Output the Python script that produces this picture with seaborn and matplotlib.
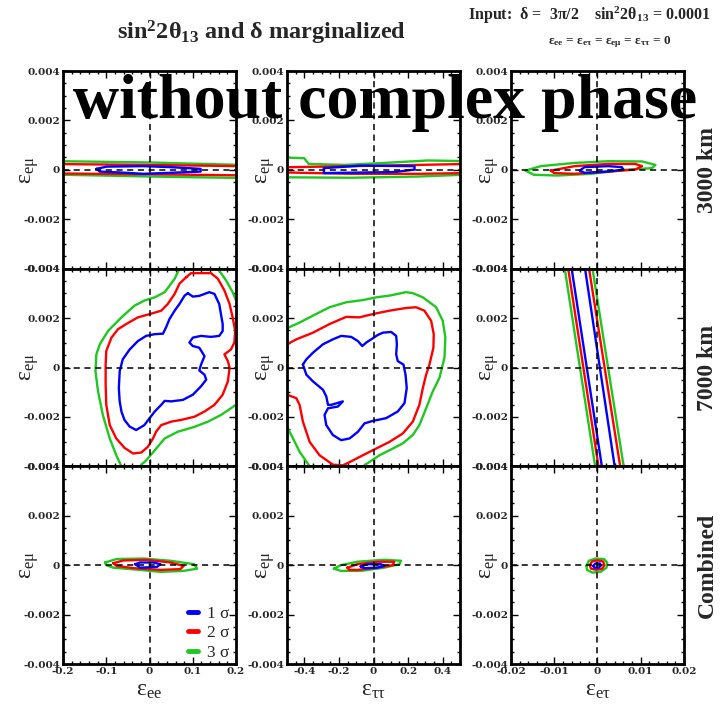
import matplotlib
matplotlib.use("Agg")
import matplotlib.pyplot as plt
import seaborn as sns
from matplotlib.lines import Line2D
from matplotlib.ticker import MultipleLocator

sns.set_theme(style="white")
plt.rcParams['font.family'] = ['Liberation Serif', 'DejaVu Serif']
plt.rcParams['mathtext.fontset'] = 'custom'
plt.rcParams['mathtext.rm'] = 'Liberation Serif'

# ---- data ----
row_names = ['3000 km', '7000 km', 'Combined']
col_labels = ['ε$\\mathregular{_{ee}}$', 'ε$\\mathregular{_{ττ}}$', 'ε$\\mathregular{_{eτ}}$']
col_limits = [(-0.2, 0.2), (-0.5, 0.5), (-0.02, 0.02)]
col_xticks = [[-0.2, -0.1, 0, 0.1, 0.2],
              [-0.4, -0.2, 0, 0.2, 0.4],
              [-0.02, -0.01, 0, 0.01, 0.02]]
col_xticklabels = [['-0.2', '-0.1', '0', '0.1', '0.2'],
                   ['-0.4', '-0.2', '0', '0.2', '0.4'],
                   ['-0.02', '-0.01', '0', '0.01', '0.02']]
col_minor = [0.02, 0.05, 0.002]
yticks = [-0.004, -0.002, 0, 0.002, 0.004]
yticklabels = ['-0.004', '-0.002', '0', '0.002', '0.004']
sigma_labels = ['1 σ', '2 σ', '3 σ']

# 3000 km, eps_ee
ee_3000_1s = [(-0.123, 0.00004), (-0.099, 0.00013), (-0.014, 0.00015), (0.048, 0.00011),
              (0.118, 0.00004), (0.118, -0.00007), (0.048, -0.00012), (-0.014, -0.00016),
              (-0.053, -0.00012), (-0.115, -0.00007)]
ee_3000_2s = [(-0.25, 0.00024), (0.0, 0.00020), (0.25, 0.00014), (0.25, -0.00023),
              (0.0, -0.00018), (-0.25, -0.00014)]
ee_3000_3s = [(-0.25, 0.00036), (0.0, 0.00030), (0.25, 0.00018), (0.25, -0.00034),
              (0.0, -0.00027), (-0.25, -0.00018)]
# 3000 km, eps_tautau
tt_3000_1s = [(-0.287, 0.00007), (-0.074, 0.00017), (0.237, 0.00015), (0.237, 0.00001),
              (0.12, -0.00009), (-0.287, -0.00013)]
tt_3000_2s = [(-0.55, 0.00010), (-0.13, 0.00015), (0.26, 0.00020), (0.55, 0.00024),
              (0.55, -0.00013), (0.26, -0.00016), (-0.13, -0.00016), (-0.55, -0.00010)]
tt_3000_3s = [(-0.55, 0.00051), (-0.40, 0.00047), (-0.375, 0.00024), (-0.17, 0.00020),
              (0.062, 0.00028), (0.315, 0.00038), (0.55, 0.00035), (0.55, -0.00019),
              (0.26, -0.00027), (-0.13, -0.00032), (-0.55, -0.00030)]
# 3000 km, eps_etau
et_3000_1s = [(-0.0041, -0.00003), (-0.003, 0.00011), (0.0025, 0.00015), (0.0056, 0.00011),
              (0.006, 0.00001), (0.0025, -0.00007), (-0.003, -0.00012)]
et_3000_2s = [(-0.0108, -0.00003), (-0.0053, 0.00015), (0.0025, 0.00024), (0.0087, 0.00024),
              (0.0103, 0.00015), (0.0087, 0.00001), (0.0025, -0.00007), (-0.0053, -0.00016),
              (-0.0100, -0.00013)]
et_3000_3s = [(-0.0166, -0.00003), (-0.0131, 0.00015), (-0.0053, 0.00028), (0.0025, 0.00035),
              (0.0103, 0.00034), (0.0134, 0.00020), (0.0126, 0.00007), (0.0064, 0.0),
              (-0.0014, -0.00016), (-0.0092, -0.00023), (-0.0147, -0.00020)]

# 7000 km, eps_ee
ee_7000_1s = [(0.0885, 0.00301), (0.100, 0.00287), (0.115, 0.00290), (0.138, 0.00305),
              (0.150, 0.00298), (0.161, 0.00257), (0.165, 0.00216), (0.169, 0.00176),
              (0.169, 0.00148), (0.161, 0.00128), (0.142, 0.00124), (0.119, 0.00128),
              (0.100, 0.00121), (0.092, 0.00101), (0.100, 0.00087), (0.115, 0.00080),
              (0.127, 0.00046), (0.119, 0.00012), (0.115, -0.00012), (0.127, -0.00029),
              (0.131, -0.00049), (0.119, -0.00076), (0.100, -0.00110), (0.077, -0.00131),
              (0.050, -0.00137), (0.035, -0.00135), (0.027, -0.00151), (0.012, -0.00178),
              (0.0, -0.00205), (-0.012, -0.00233), (-0.031, -0.00253), (-0.046, -0.00239),
              (-0.058, -0.00212), (-0.065, -0.00178), (-0.069, -0.00137), (-0.071, -0.00083),
              (-0.069, -0.00015), (-0.062, 0.00033), (-0.046, 0.00073), (-0.027, 0.00107),
              (-0.008, 0.00128), (0.012, 0.00135), (0.031, 0.00137), (0.038, 0.00162),
              (0.046, 0.00196), (0.058, 0.00230), (0.069, 0.00257), (0.081, 0.00291)]
ee_7000_2s = [(0.085, 0.00366), (0.096, 0.00382), (0.142, 0.00382), (0.158, 0.00359),
              (0.173, 0.00312), (0.185, 0.00257), (0.192, 0.00203), (0.198, 0.00148),
              (0.196, 0.00101), (0.188, 0.00073), (0.173, 0.00053), (0.181, 0.00026),
              (0.185, -0.00001), (0.181, -0.00056), (0.169, -0.00110), (0.150, -0.00151),
              (0.127, -0.00178), (0.104, -0.00199), (0.073, -0.00212), (0.050, -0.00219),
              (0.027, -0.00233), (0.015, -0.00260), (0.008, -0.00287), (-0.004, -0.00321),
              (-0.019, -0.00344), (-0.038, -0.00348), (-0.058, -0.00325), (-0.077, -0.00287),
              (-0.092, -0.00233), (-0.100, -0.00151), (-0.1015, -0.00069), (-0.1015, 0.00012),
              (-0.100, 0.00067), (-0.088, 0.00121), (-0.073, 0.00155), (-0.054, 0.00176),
              (-0.027, 0.00203), (0.0, 0.00216), (0.027, 0.00230), (0.042, 0.00257),
              (0.058, 0.00298), (0.069, 0.00339)]
ee_7000_3s = [(0.069, 0.0040), (0.058, 0.00359), (0.035, 0.00305), (0.012, 0.00284),
              (-0.012, 0.00271), (-0.035, 0.00250), (-0.065, 0.00203), (-0.096, 0.00148),
              (-0.115, 0.00094), (-0.123, 0.00053), (-0.125, -0.00015), (-0.119, -0.00097),
              (-0.108, -0.00192), (-0.092, -0.00287), (-0.077, -0.00355), (-0.065, -0.0040),
              (-0.054, -0.0045), (-0.035, -0.0045), (-0.023, -0.0040), (-0.008, -0.00376),
              (0.012, -0.00335), (0.035, -0.00287), (0.065, -0.00260), (0.104, -0.00240),
              (0.135, -0.00219), (0.165, -0.00192), (0.188, -0.00165), (0.200, -0.00151),
              (0.227, -0.00124), (0.235, 0.00148), (0.200, 0.00271), (0.192, 0.00305),
              (0.177, 0.00352), (0.158, 0.0040), (0.142, 0.0045), (0.081, 0.0045)]
# 7000 km, eps_tautau
tt_7000_1s = [(-0.408, 0.00012), (-0.388, 0.00033), (-0.35, 0.00060), (-0.292, 0.00094),
              (-0.235, 0.00114), (-0.187, 0.00128), (-0.129, 0.00124), (-0.090, 0.00107),
              (-0.065, 0.00087), (-0.042, 0.00101), (-0.0135, 0.00114), (0.025, 0.00132),
              (0.054, 0.00141), (0.102, 0.00144), (0.131, 0.00128), (0.135, 0.00094),
              (0.131, 0.00053), (0.140, 0.00026), (0.173, 0.00012), (0.185, -0.00029),
              (0.192, -0.00083), (0.179, -0.00144), (0.140, -0.00178), (0.073, -0.00205),
              (-0.004, -0.00216), (-0.052, -0.00226), (-0.090, -0.00260), (-0.138, -0.00287),
              (-0.187, -0.00294), (-0.235, -0.00273), (-0.273, -0.00233), (-0.283, -0.00192),
              (-0.263, -0.00165), (-0.206, -0.00158), (-0.177, -0.00137), (-0.244, -0.00151),
              (-0.263, -0.00151), (-0.273, -0.00117), (-0.292, -0.00090), (-0.35, -0.00056),
              (-0.388, -0.00029)]
tt_7000_2s = [(-0.5, 0.00094), (-0.446, 0.00114), (-0.35, 0.00141), (-0.254, 0.00176),
              (-0.158, 0.00205), (-0.081, 0.00203), (-0.042, 0.00210), (0.015, 0.00219),
              (0.092, 0.00230), (0.188, 0.00241), (0.246, 0.00244), (0.294, 0.00230),
              (0.333, 0.00189), (0.348, 0.00135), (0.346, 0.00080), (0.323, 0.00012),
              (0.304, -0.00029), (0.285, -0.00083), (0.265, -0.00151), (0.227, -0.00219),
              (0.169, -0.00267), (0.092, -0.00301), (0.015, -0.00328), (-0.0615, -0.00355),
              (-0.119, -0.00376), (-0.177, -0.00396), (-0.235, -0.00393), (-0.312, -0.00355),
              (-0.369, -0.00301), (-0.408, -0.00219), (-0.427, -0.00151), (-0.446, -0.00124),
              (-0.5, -0.00110), (-0.56, -0.00110), (-0.56, 0.00094)]
tt_7000_3s = [(-0.5, 0.00159), (-0.427, 0.00182), (-0.35, 0.00210), (-0.254, 0.00244),
              (-0.158, 0.00264), (-0.0615, 0.00273), (0.015, 0.00284), (0.092, 0.00291),
              (0.188, 0.00305), (0.227, 0.00301), (0.285, 0.00284), (0.362, 0.00244),
              (0.400, 0.00189), (0.415, 0.00121), (0.410, 0.00040), (0.381, -0.00042),
              (0.342, -0.00097), (0.304, -0.00165), (0.265, -0.00233), (0.227, -0.00273),
              (0.169, -0.00307), (0.092, -0.00335), (0.035, -0.00355), (-0.023, -0.00382),
              (-0.0615, -0.0040), (-0.081, -0.0045), (-0.35, -0.0045), (-0.369, -0.0040),
              (-0.427, -0.00341), (-0.465, -0.00287), (-0.5, -0.00240), (-0.56, -0.00240),
              (-0.56, 0.00159)]
# 7000 km, eps_etau: straight band edges, x at y = +0.0045 and y = -0.0045
et_7000_y = [0.0045, -0.0045]
et_7000_1s_left = [-0.0064, 0.00145]
et_7000_1s_right = [-0.0033, 0.0044]
et_7000_2s_left = [-0.0072, 0.00067]
et_7000_2s_right = [-0.0024, 0.0057]
et_7000_3s_left = [-0.0080, -0.0001]
et_7000_3s_right = [-0.0016, 0.0065]

# combined, eps_ee
ee_comb_1s = [(-0.033, 0.00004), (-0.022, 0.00011), (0.009, 0.00011), (0.025, 0.00004),
              (0.017, -0.00007), (-0.022, -0.00010)]
ee_comb_2s = [(-0.084, 0.00008), (-0.061, 0.00019), (-0.006, 0.00022), (0.048, 0.00011),
              (0.079, -0.00003), (0.071, -0.00016), (0.025, -0.00019), (-0.037, -0.00012),
              (-0.076, -0.00003)]
ee_comb_3s = [(-0.103, 0.00011), (-0.076, 0.00025), (-0.014, 0.00027), (0.048, 0.00018),
              (0.103, 0.00004), (0.110, -0.00014), (0.079, -0.00023), (0.025, -0.00027),
              (-0.022, -0.00019), (-0.084, -0.00010), (-0.100, 0.0)]
# combined, eps_tautau
tt_comb_1s = [(-0.074, -0.00005), (-0.035, 0.00004), (0.043, 0.00004), (0.062, -0.00003),
              (0.023, -0.00010), (-0.054, -0.00012)]
tt_comb_2s = [(-0.151, -0.00010), (-0.093, 0.00004), (0.023, 0.00014), (0.120, 0.00014),
              (0.110, 0.0), (0.023, -0.00010), (-0.093, -0.00019), (-0.141, -0.00019)]
tt_comb_3s = [(-0.229, -0.00014), (-0.190, 0.0), (-0.093, 0.00014), (0.062, 0.00022),
              (0.159, 0.00018), (0.150, 0.00004), (0.062, -0.00010), (-0.074, -0.00023),
              (-0.190, -0.00023)]
# combined, eps_etau
et_comb_1s = [(-0.0010, -0.00003), (-0.00047, 0.00007), (0.00054, 0.00007), (0.00085, 0.0),
              (0.0003, -0.00010), (-0.0007, -0.00010)]
et_comb_2s = [(-0.0018, 0.0), (-0.00124, 0.00015), (-0.00008, 0.00020), (0.0013, 0.00015),
              (0.0016, 0.0), (0.0011, -0.00014), (-0.00023, -0.00019), (-0.0015, -0.00014)]
et_comb_3s = [(-0.00256, -0.00003), (-0.0020, 0.00018), (-0.00047, 0.00027), (0.0015, 0.00025),
              (0.00225, 0.00011), (0.0021, -0.00010), (0.0007, -0.00027), (-0.0012, -0.00030),
              (-0.0024, -0.00019)]

sigma_colors = ['#0000ff', '#ff0000', '#1ec81e']

closed = {
    (0, 0): [ee_3000_1s, ee_3000_2s, ee_3000_3s],
    (0, 1): [tt_3000_1s, tt_3000_2s, tt_3000_3s],
    (0, 2): [et_3000_1s, et_3000_2s, et_3000_3s],
    (1, 0): [ee_7000_1s, ee_7000_2s, ee_7000_3s],
    (1, 1): [tt_7000_1s, tt_7000_2s, tt_7000_3s],
    (2, 0): [ee_comb_1s, ee_comb_2s, ee_comb_3s],
    (2, 1): [tt_comb_1s, tt_comb_2s, tt_comb_3s],
    (2, 2): [et_comb_1s, et_comb_2s, et_comb_3s],
}
bands = [(et_7000_1s_left, et_7000_1s_right),
         (et_7000_2s_left, et_7000_2s_right),
         (et_7000_3s_left, et_7000_3s_right)]

fig, axes = plt.subplots(3, 3, figsize=(7.21, 7.08), dpi=100)
fig.subplots_adjust(left=0.0874, right=0.9487, top=0.8997, bottom=0.0621,
                    wspace=0.294, hspace=0.0)

ylabel_x = [-0.13, -0.055, -0.06]
tick_font = {'family': 'DejaVu Serif', 'weight': 'bold', 'size': 7.5}

for r in range(3):
    for c in range(3):
        ax = axes[r, c]
        ax.set_facecolor('white')
        if (r, c) in closed:
            for k, pts in enumerate(closed[(r, c)]):
                xs = [p[0] for p in pts] + [pts[0][0]]
                ys = [p[1] for p in pts] + [pts[0][1]]
                sns.lineplot(x=xs, y=ys, sort=False, estimator=None, color=sigma_colors[k],
                             lw=1.7, ax=ax, zorder=3 - k * 0.1)
        else:
            for k, (lx, rx) in enumerate(bands):
                sns.lineplot(x=lx, y=et_7000_y, sort=False, estimator=None,
                             color=sigma_colors[k], lw=1.7, ax=ax)
                sns.lineplot(x=rx, y=et_7000_y, sort=False, estimator=None,
                             color=sigma_colors[k], lw=1.7, ax=ax)

        ax.axhline(0, color='black', ls=(0, (4, 3)), lw=1.1, zorder=4)
        ax.axvline(0, color='black', ls=(0, (4, 3)), lw=1.1, zorder=4)
        ax.set_xlim(*col_limits[c])
        ax.set_ylim(-0.004, 0.004)
        ax.set_yticks(yticks)
        ax.set_yticklabels(yticklabels, fontdict=tick_font)
        ax.set_xticks(col_xticks[c])
        ax.xaxis.set_minor_locator(MultipleLocator(col_minor[c]))
        ax.yaxis.set_minor_locator(MultipleLocator(0.0005))
        ax.tick_params(which='both', direction='in', top=True, right=True, bottom=True,
                       left=True, color='black', width=1.0, pad=2)
        ax.tick_params(which='major', length=5)
        ax.tick_params(which='minor', length=2.5)
        if r == 2:
            ax.set_xticklabels(col_xticklabels[c], fontdict=tick_font)
            ax.set_xlabel(col_labels[c], fontsize=17, labelpad=3)
        else:
            ax.set_xticklabels([])
            ax.set_xlabel('')
        ax.set_ylabel('ε$\\mathregular{_{eμ}}$', fontsize=17)
        ax.yaxis.set_label_coords(ylabel_x[c], 0.5)
        for s in ax.spines.values():
            s.set_color('black')
            s.set_linewidth(2.0)
            s.set_zorder(5)

# legend in the combined / eps_ee panel
handles = [Line2D([0], [0], color=col, lw=3.5) for col in sigma_colors]
axes[2, 0].legend(handles, sigma_labels, loc='lower right', frameon=False, fontsize=12.5,
                  handlelength=0.6, handletextpad=0.5, labelspacing=0.2,
                  borderaxespad=0.0, bbox_to_anchor=(1.0, -0.02))

row_y = [0.760, 0.480, 0.202]
for name, y in zip(row_names, row_y):
    fig.text(0.981, y, name, rotation=90, ha='center', va='center', fontsize=17,
             fontweight='bold')

fig.text(0.363, 0.953, 'sin$\\mathregular{^2}$2θ$\\mathregular{_{13}}$ and δ marginalized',
         ha='center', va='center', fontsize=17.5, fontweight='bold')
fig.text(0.649, 0.979, 'Input:  δ =  3π/2    sin$\\mathregular{^2}$2θ$\\mathregular{_{13}}$ = 0.0001',
         ha='left', va='center', fontsize=11.5, fontweight='bold')
fig.text(0.846, 0.940,
         'ε$\\mathregular{_{ee}}$ = ε$\\mathregular{_{eτ}}$ = ε$\\mathregular{_{eμ}}$ = ε$\\mathregular{_{ττ}}$ = 0',
         ha='center', va='center', fontsize=9.5, fontweight='bold')
fig.text(0.534, 0.855, 'without complex phase', ha='center', va='center', fontsize=46,
         fontweight='bold', color='black', zorder=10)

fig.savefig('out.png', dpi=100)
